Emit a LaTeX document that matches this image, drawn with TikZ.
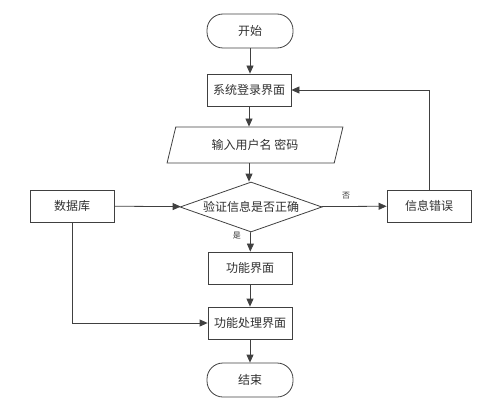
\documentclass[tikz,border=0pt]{standalone}
\usepackage{fontspec}
\newfontfamily\cjk{Noto Sans CJK SC}
\usetikzlibrary{arrows.meta, shapes.geometric, positioning}
\definecolor{lineGray}{HTML}{404040}
\definecolor{textGray}{HTML}{303030}

\begin{document}
\begin{tikzpicture}[x=1pt, y=-1pt,
  box/.style={draw=lineGray, line width=0.8pt, minimum width=84pt, minimum height=32pt,
              font=\cjk\fontsize{12}{14}\selectfont, text=textGray},
  term/.style={box, rounded corners=16pt, minimum width=86pt, minimum height=34pt},
  io/.style={box, trapezium, trapezium left angle=74, trapezium right angle=106,
             trapezium stretches=true, minimum width=176pt, minimum height=36pt},
  dec/.style={box, diamond, aspect=2.84, inner sep=0pt, minimum width=142pt,
              minimum height=50pt},
  flow/.style={-{Triangle[length=8pt,width=7pt]}, draw=lineGray, line width=0.8pt},
  tag/.style={font=\cjk\fontsize{8}{10}\selectfont, text=textGray}]
  \useasboundingbox (0,0) rectangle (492,409);
  \node[term] (S) at (250,31)  {开始};
  \node[box]  (L) at (249,90)  {系统登录界面};
  \node[io]   (I) at (255,145) {输入用户名 密码};
  \node[dec]  (D) at (251,207) {验证信息是否正确};
  \node[box]  (B) at (72,206)  {数据库};
  \node[box]  (E) at (429,206) {信息错误};
  \node[box]  (F) at (250,268) {功能界面};
  \node[box]  (P) at (250,323) {功能处理界面};
  \node[term] (T) at (250,380) {结束};
  \draw[flow] (S) -- (S |- L.north);
  \draw[flow] (L) -- (L |- I.north);
  \draw[flow] (L |- I.south) -- (L |- D.north);
  \draw[flow] (D) -- (F) node[pos=0.2, left=6pt, tag] {是};
  \draw[flow] (D) -- (E) node[pos=0.38, above=4pt, tag] {否};
  \draw[flow] (E.north) |- (L.east);
  \draw[flow] (B) -- (D);
  \draw[flow] (B.south) |- (P.west);
  \draw[flow] (F) -- (P);
  \draw[flow] (P) -- (T);
\end{tikzpicture}
\end{document}
